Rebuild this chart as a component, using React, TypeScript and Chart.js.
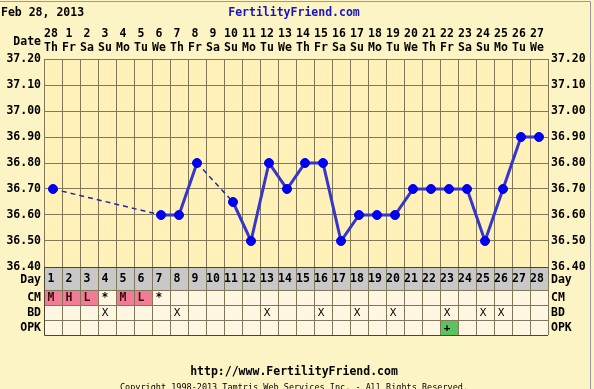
import React, { useEffect, useRef } from 'react';
import { Chart, registerables } from 'chart.js';

Chart.register(...registerables);

// ---------- data ----------
const CYCLE_DAYS = ['1','2','3','4','5','6','7','8','9','10','11','12','13','14','15','16','17','18','19','20','21','22','23','24','25','26','27','28'];
const DATES = ['28','1','2','3','4','5','6','7','8','9','10','11','12','13','14','15','16','17','18','19','20','21','22','23','24','25','26','27'];
const WEEKDAYS = ['Th','Fr','Sa','Su','Mo','Tu','We','Th','Fr','Sa','Su','Mo','Tu','We','Th','Fr','Sa','Su','Mo','Tu','We','Th','Fr','Sa','Su','Mo','Tu','We'];
const TEMPS: (number | null)[] = [36.70, null, null, null, null, null, 36.60, 36.60, 36.80, null, 36.65, 36.50, 36.80, 36.70, 36.80, 36.80, 36.50, 36.60, 36.60, 36.60, 36.70, 36.70, 36.70, 36.70, 36.50, 36.70, 36.90, 36.90];
const CM = ['M','H','L','*','M','L','*','','','','','','','','','','','','','','','','','','','','',''];
const CM_COLORED = ['M','H','L'];
const BD_DAYS = [4, 8, 13, 16, 18, 20, 23, 25, 26];
const OPK_DAYS = [23];
const Y_MIN = 36.4;
const Y_MAX = 37.2;
const Y_STEP = 0.05;
const TITLE_DATE = 'Feb 28, 2013';
const SITE = 'FertilityFriend.com';
const URL_TEXT = 'http://www.FertilityFriend.com';
const COPYRIGHT = 'Copyright 1998-2013 Tamtris Web Services Inc. - All Rights Reserved.';
const ROW_LABELS = ['Day', 'CM', 'BD', 'OPK'];

// ---------- styles ----------
const FONT = '"DejaVu Sans Mono", monospace';
const PAGE_BG = '#fdf4c6';
const PLOT_BG = '#fff1b8';
const CELL_BG = '#fff7e2';
const DAY_BG = '#c8c8c8';
const PINK = '#f27c95';
const GREEN = '#5cc45c';
const GRID = '#807858';
const TABLE_EDGE = '#4a4632';

const tickLabel = (v: number | string) => {
  const n = Number(v);
  const c = Math.round(n * 100);
  return c % 10 === 0 ? n.toFixed(2) : '';
};

export default function App() {
  const ref = useRef<HTMLCanvasElement | null>(null);

  useEffect(() => {
    if (!ref.current) return;

    const decor = {
      id: 'decor',
      beforeDraw(chart: any) {
        const { ctx, chartArea: ca } = chart;
        ctx.save();
        ctx.fillStyle = PAGE_BG;
        ctx.fillRect(0, 0, chart.width, chart.height);
        ctx.fillStyle = PLOT_BG;
        ctx.fillRect(ca.left, ca.top, ca.right - ca.left, ca.bottom - ca.top);
        ctx.restore();
      },
      afterDraw(chart: any) {
        const { ctx, chartArea: ca } = chart;
        const xs = chart.scales.x;
        const n = CYCLE_DAYS.length;
        const colW = (ca.right - ca.left) / n;
        const rowH = [23, 15, 15, 15];
        const rowTop: number[] = [];
        let yy = ca.bottom;
        for (const h of rowH) { rowTop.push(yy); yy += h; }
        const tableBottom = yy;
        ctx.save();

        // cells
        for (let i = 0; i < n; i++) {
          const cx = xs.getPixelForValue(i);
          const x0 = cx - colW / 2;
          ctx.fillStyle = DAY_BG;
          ctx.fillRect(x0, rowTop[0], colW, rowH[0]);
          ctx.fillStyle = CM_COLORED.includes(CM[i]) ? PINK : CELL_BG;
          ctx.fillRect(x0, rowTop[1], colW, rowH[1]);
          ctx.fillStyle = CELL_BG;
          ctx.fillRect(x0, rowTop[2], colW, rowH[2]);
          ctx.fillStyle = OPK_DAYS.includes(i + 1) ? GREEN : CELL_BG;
          ctx.fillRect(x0, rowTop[3], colW, rowH[3]);
        }

        // grid lines
        ctx.strokeStyle = GRID;
        ctx.lineWidth = 1;
        ctx.beginPath();
        for (let i = 0; i <= n; i++) {
          const x = Math.round(ca.left + i * colW) + 0.5;
          ctx.moveTo(x, ca.bottom);
          ctx.lineTo(x, tableBottom);
        }
        for (let r = 1; r < rowTop.length; r++) {
          const y = Math.round(rowTop[r]) + 0.5;
          ctx.moveTo(ca.left, y);
          ctx.lineTo(ca.right, y);
        }
        ctx.stroke();
        ctx.strokeStyle = TABLE_EDGE;
        ctx.beginPath();
        ctx.moveTo(ca.left + 0.5, ca.bottom);
        ctx.lineTo(ca.left + 0.5, tableBottom + 0.5);
        ctx.lineTo(ca.right, tableBottom + 0.5);
        ctx.moveTo(ca.left, Math.round(ca.bottom) + 0.5);
        ctx.lineTo(ca.right, Math.round(ca.bottom) + 0.5);
        ctx.stroke();

        // cell text
        ctx.textAlign = 'center';
        ctx.textBaseline = 'middle';
        ctx.fillStyle = '#000';
        for (let i = 0; i < n; i++) {
          const cx = xs.getPixelForValue(i) - 2;
          ctx.font = `bold 11.5px ${FONT}`;
          ctx.fillText(CYCLE_DAYS[i], cx, rowTop[0] + rowH[0] / 2 + 1);
          if (CM[i]) {
            ctx.fillStyle = CM_COLORED.includes(CM[i]) ? '#3a0a10' : '#000';
            ctx.fillText(CM[i], cx, rowTop[1] + rowH[1] / 2 + 1);
            ctx.fillStyle = '#000';
          }
          if (BD_DAYS.includes(i + 1)) {
            ctx.font = `11px ${FONT}`;
            ctx.fillText('X', cx, rowTop[2] + rowH[2] / 2 + 1);
          }
          if (OPK_DAYS.includes(i + 1)) {
            ctx.font = `bold 11px ${FONT}`;
            ctx.fillText('+', cx, rowTop[3] + rowH[3] / 2 + 1);
          }
        }

        // row labels
        ctx.font = `bold 11.5px ${FONT}`;
        ROW_LABELS.forEach((lab, r) => {
          const cy = rowTop[r] + rowH[r] / 2 + (r === 0 ? 1.5 : 1);
          ctx.textAlign = 'right';
          ctx.fillText(lab, ca.left - 3, cy);
          ctx.textAlign = 'left';
          ctx.fillText(lab, ca.right + 3, cy);
        });

        // header
        ctx.textAlign = 'right';
        ctx.fillText('Date', ca.left - 3, 42);
        ctx.textAlign = 'left';
        ctx.fillText(TITLE_DATE, 1, 13);
        ctx.textAlign = 'center';
        ctx.fillStyle = '#1414c4';
        ctx.fillText(SITE, 294, 13);

        // footer
        ctx.fillStyle = '#000';
        ctx.fillText(URL_TEXT, 294, 372);
        ctx.font = `8.5px ${FONT}`;
        ctx.fillText(COPYRIGHT, 294, 388);

        // frame
        ctx.strokeStyle = '#9a9a9a';
        ctx.lineWidth = 1;
        ctx.beginPath();
        ctx.moveTo(0, 1.5);
        ctx.lineTo(590.5, 1.5);
        ctx.lineTo(590.5, chart.height);
        ctx.stroke();
        ctx.restore();
      },
    };

    const gap = (c: any, v: any) => (c.p0.skip || c.p1.skip ? v : undefined);

    const chart = new Chart(ref.current, {
      type: 'line',
      data: {
        labels: CYCLE_DAYS,
        datasets: [
          {
            data: TEMPS,
            spanGaps: true,
            borderColor: '#3636cc',
            borderWidth: 3,
            pointRadius: 4.5,
            pointBackgroundColor: '#0000f0',
            pointBorderColor: '#0000f0',
            pointBorderWidth: 1,
            segment: {
              borderDash: (c: any) => gap(c, [5, 4]),
              borderWidth: (c: any) => gap(c, 1.5),
              borderColor: (c: any) => gap(c, '#2626a0'),
            },
          } as any,
        ],
      },
      options: {
        responsive: false,
        animation: false,
        layout: { padding: { top: 0, left: 0, right: 0, bottom: 122 } },
        plugins: { legend: { display: false }, tooltip: { enabled: false } },
        scales: {
          x: {
            type: 'category',
            position: 'top',
            offset: true,
            grid: { offset: true, color: GRID, drawTicks: false },
            border: { color: GRID },
            ticks: {
              autoSkip: false,
              maxRotation: 0,
              padding: 4,
              labelOffset: -2,
              color: '#000',
              font: { family: FONT, size: 11.5, weight: 'bold', lineHeight: '14px' } as any,
              callback: (_v: any, i: number) => [DATES[i], WEEKDAYS[i]],
            },
            afterFit: (s: any) => { s.height = 59; },
          },
          y: {
            position: 'left',
            min: Y_MIN,
            max: Y_MAX,
            grid: { color: GRID, drawTicks: false },
            border: { color: GRID },
            ticks: {
              stepSize: Y_STEP,
              padding: 3,
              color: '#000',
              font: { family: FONT, size: 11.5, weight: 'bold' },
              callback: tickLabel,
            },
            afterFit: (s: any) => { s.width = 44; },
          },
          y2: {
            position: 'right',
            min: Y_MIN,
            max: Y_MAX,
            grid: { display: false, drawTicks: false },
            border: { color: GRID },
            ticks: {
              stepSize: Y_STEP,
              padding: 3,
              color: '#000',
              font: { family: FONT, size: 11.5, weight: 'bold' },
              callback: tickLabel,
            },
            afterFit: (s: any) => { s.width = 46; },
          },
        },
      },
      plugins: [decor],
    });

    return () => chart.destroy();
  }, []);

  return (
    <div style={{ position: 'absolute', left: 0, top: 0, width: 594, height: 389 }}>
      <canvas ref={ref} width={594} height={389} style={{ display: 'block' }} />
    </div>
  );
}
